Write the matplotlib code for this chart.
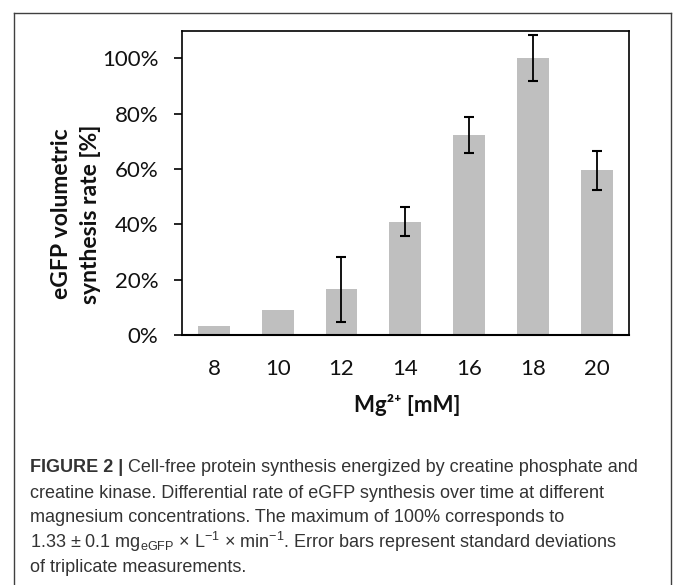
import numpy as np
import matplotlib
matplotlib.use("Agg")
import matplotlib.pyplot as plt
from matplotlib.lines import Line2D

# Mg2+ concentration [mM] vs relative eGFP synthesis rate [%]
mg_conc = ["8", "10", "12", "14", "16", "18", "20"]
rate = [3.1, 9.1, 16.5, 41.0, 72.4, 100.0, 59.5]
rate_sd = [0, 0, 11.8, 5.4, 6.5, 8.2, 7.0]
yticks = [0, 20, 40, 60, 80, 100]

caption_bold = "FIGURE 2 |"
caption_first = " Cell-free protein synthesis energized by creatine phosphate and"
caption_rest = [
    "creatine kinase. Differential rate of eGFP synthesis over time at different",
    "magnesium concentrations. The maximum of 100% corresponds to",
    r"1.33 $\pm$ 0.1 mg$_{\mathrm{eGFP}}$ $\times$ L$^{-1}$ $\times$ min$^{-1}$. Error bars represent standard deviations",
    "of triplicate measurements.",
]

W, H = 673, 585
fig = plt.figure(figsize=(W / 100, H / 100), dpi=100)

def fx(px):
    return px / W

def fy(py):
    return 1 - py / H

# outer frame
frame_kw = dict(color="#404040", lw=1.0, transform=fig.transFigure)
fig.add_artist(Line2D([fx(14), fx(14)], [0, fy(13)], **frame_kw))
fig.add_artist(Line2D([fx(14), fx(671)], [fy(13), fy(13)], **frame_kw))
fig.add_artist(Line2D([fx(671), fx(671)], [0, fy(13)], **frame_kw))

ax = fig.add_axes([fx(182), fy(335), fx(628.5) - fx(182), fy(30.5) - fy(335)])
x = np.arange(len(mg_conc))
err = [e if e > 0 else np.nan for e in rate_sd]
ax.bar(x, rate, width=0.5, color="#BFBFBF", edgecolor="none", zorder=2)
ax.errorbar(x, rate, yerr=err, fmt="none", ecolor="black", elinewidth=1.3,
            capsize=3.6, capthick=1.5, zorder=3)

ax.set_xlim(-0.5, len(mg_conc) - 0.5)
ax.set_ylim(0, 110)
ax.set_xticks(x)
ax.set_xticklabels(mg_conc)
ax.set_yticks(yticks)
ax.set_yticklabels([f"{v}%" for v in yticks])

for lab in ax.get_xticklabels() + ax.get_yticklabels():
    lab.set_fontfamily(["Lato", "DejaVu Sans"])
    lab.set_fontsize(16)
    lab.set_color("#111111")
ax.tick_params(axis="x", length=0, pad=17)
ax.tick_params(axis="y", length=6, width=1.2, pad=11, direction="out")

for s in ax.spines.values():
    s.set_linewidth(1.2)
    s.set_color("black")
ax.spines["bottom"].set_linewidth(1.5)

fig.text(fx(76), fy(214), "eGFP volumetric\nsynthesis rate [%]", rotation=90,
         ha="center", va="center", multialignment="center",
         family=["Lato", "DejaVu Sans"], fontweight="bold", fontsize=16.5,
         linespacing=1.5, color="#111111")
fig.text(fx(407), fy(405), "Mg²⁺ [mM]", ha="center", va="center",
         family=["Lato", "DejaVu Sans"], fontweight="bold", fontsize=16,
         color="#111111")

# caption
plt.rcParams["mathtext.fontset"] = "custom"
plt.rcParams["mathtext.rm"] = "Liberation Sans"
plt.rcParams["mathtext.it"] = "Liberation Sans:italic"
cap_kw = dict(family=["Liberation Sans", "DejaVu Sans"], fontsize=13,
              color="#333333", va="center")
line_y = [468, 493, 518, 542, 567]
t0 = fig.text(fx(30), fy(line_y[0]), caption_bold, fontweight="bold", **cap_kw)
ax.annotate(caption_first, xy=(1, 0.5), xycoords=t0, ha="left",
            annotation_clip=False, **cap_kw)
for yy, line in zip(line_y[1:], caption_rest):
    fig.text(fx(30), fy(yy), line, **cap_kw)

fig.savefig("out.png", dpi=100)
